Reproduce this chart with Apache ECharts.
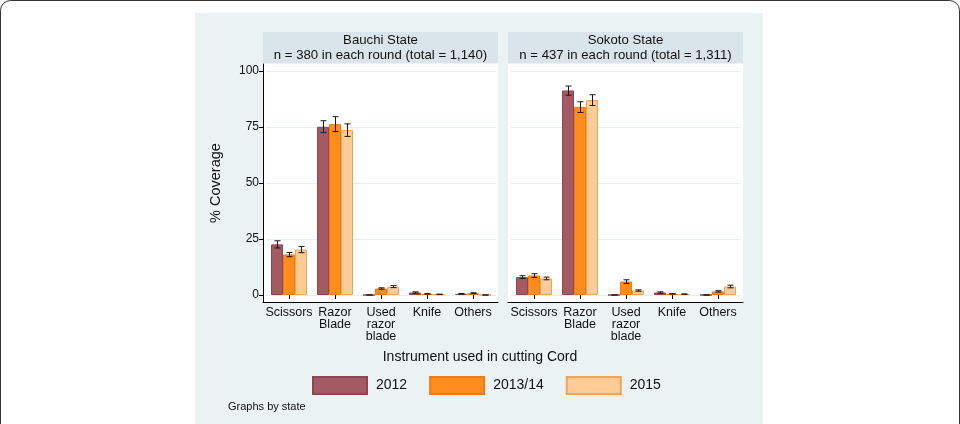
<!DOCTYPE html>
<html>
<head>
<meta charset="utf-8">
<script src="https://cdn.jsdelivr.net/npm/echarts@6/dist/echarts.min.js"></script>
<style>
html,body{margin:0;padding:0;background:#fff;}
#c{width:960px;height:424px;}
</style>
</head>
<body>
<div id="c"></div>
<script>
// ---------- data ----------
const categories = ['Scissors', 'Razor\nBlade', 'Used\nrazor\nblade', 'Knife', 'Others'];
const years = ['2012', '2013/14', '2015'];
const yTicks = [0, 25, 50, 75, 100];

const panelTitles = ['Bauchi State\nn = 380 in each round (total = 1,140)',
                     'Sokoto State\nn = 437 in each round (total = 1,311)'];

// Bauchi
const bauchi2012   = [22.6, 75.1, 0.0, 1.1, 0.5];
const bauchi2012Lo = [21.0, 72.5, 0.0, 0.8, 0.3];
const bauchi2012Hi = [24.2, 77.8, 0.0, 1.4, 0.7];
const bauchi2013   = [18.1, 76.3, 2.9, 0.5, 0.8];
const bauchi2013Lo = [17.1, 73.0, 2.6, 0.4, 0.6];
const bauchi2013Hi = [19.0, 79.6, 3.2, 0.6, 1.0];
const bauchi2015   = [20.3, 73.7, 3.7, 0.3, 0.0];
const bauchi2015Lo = [18.9, 70.8, 3.3, 0.2, 0.0];
const bauchi2015Hi = [21.7, 76.4, 4.2, 0.4, 0.0];

// Sokoto
const sokoto2012   = [8.0, 91.3, 0.0, 1.1, 0.0];
const sokoto2012Lo = [7.4, 89.2, 0.0, 0.8, 0.0];
const sokoto2012Hi = [8.6, 93.3, 0.0, 1.4, 0.0];
const sokoto2013   = [8.7, 84.0, 6.0, 0.5, 1.6];
const sokoto2013Lo = [7.9, 81.5, 5.2, 0.4, 1.3];
const sokoto2013Hi = [9.5, 86.3, 6.8, 0.6, 1.9];
const sokoto2015   = [7.4, 87.0, 2.0, 0.4, 3.8];
const sokoto2015Lo = [6.8, 84.6, 1.7, 0.3, 3.2];
const sokoto2015Hi = [8.0, 89.4, 2.3, 0.5, 4.4];

// ---------- style ----------
const FONT = '"Liberation Sans", Arial, Helvetica, sans-serif';
const fills   = ['#A45A62', '#FF8C1C', '#FFCB96'];
const borders = ['#8C4650', '#EE7C10', '#F2A456'];
const BAR_W = 12;

const states = [
  { vals: [bauchi2012, bauchi2013, bauchi2015],
    lo:   [bauchi2012Lo, bauchi2013Lo, bauchi2015Lo],
    hi:   [bauchi2012Hi, bauchi2013Hi, bauchi2015Hi], left: 263 },
  { vals: [sokoto2012, sokoto2013, sokoto2015],
    lo:   [sokoto2012Lo, sokoto2013Lo, sokoto2015Lo],
    hi:   [sokoto2012Hi, sokoto2013Hi, sokoto2015Hi], left: 508 }
];

const PANEL_W = 235, BG_TOP = 64, BG_H = 238, DATA_TOP = 71, DATA_H = 224;

const grid = [], xAxis = [], yAxis = [], series = [], graphic = [];

// outer frame & background
graphic.push({ type: 'rect', z: -100, shape: { x: 0.5, y: 0.5, width: 959, height: 440, r: 10 },
  style: { fill: '#fff', stroke: '#333', lineWidth: 1 } });
graphic.push({ type: 'rect', z: -90, shape: { x: 195, y: 13, width: 568, height: 420 },
  style: { fill: '#EAF2F3' } });

states.forEach((st, s) => {
  const bgIdx = s * 2, dIdx = s * 2 + 1;
  grid.push({ left: st.left, top: BG_TOP, width: PANEL_W, height: BG_H, show: true,
              backgroundColor: '#fff', borderWidth: 0 });
  grid.push({ left: st.left + 3, top: DATA_TOP, width: PANEL_W - 5, height: DATA_H });

  xAxis.push({ gridIndex: bgIdx, type: 'category', data: categories,
    axisLine: { show: true, lineStyle: { color: '#000', width: 1 } },
    axisTick: { show: false }, axisLabel: { show: false } });
  xAxis.push({ gridIndex: dIdx, type: 'category', data: categories, offset: 7,
    axisLine: { show: false },
    axisTick: { show: true, alignWithLabel: true, length: 4, lineStyle: { color: '#000' } },
    axisLabel: { fontFamily: FONT, fontSize: 12.5, color: '#111', lineHeight: 12, margin: 5, interval: 0 } });

  yAxis.push({ gridIndex: bgIdx, type: 'value', min: 0, max: 1,
    axisLine: { show: s === 0, lineStyle: { color: '#000', width: 1 } },
    axisTick: { show: false }, axisLabel: { show: false }, splitLine: { show: false } });
  yAxis.push({ gridIndex: dIdx, type: 'value', min: yTicks[0], max: yTicks[yTicks.length - 1],
    interval: yTicks[1] - yTicks[0], offset: 3,
    axisLine: { show: false },
    axisTick: { show: s === 0, length: 4, lineStyle: { color: '#000' } },
    axisLabel: { show: s === 0, fontFamily: FONT, fontSize: 12, color: '#111', margin: 4 },
    splitLine: { show: true, lineStyle: { color: '#E6EEF1', width: 1 } },
    name: s === 0 ? '% Coverage' : '', nameLocation: 'middle', nameGap: 40,
    nameTextStyle: { fontFamily: FONT, fontSize: 14.5, color: '#111' } });

  years.forEach((yr, k) => {
    series.push({ type: 'bar', name: yr, xAxisIndex: dIdx, yAxisIndex: dIdx,
      data: st.vals[k], barWidth: BAR_W, barGap: '0%',
      itemStyle: { color: fills[k], borderColor: borders[k], borderWidth: 1 },
      emphasis: { disabled: true }, animation: false });
  });
  years.forEach((yr, k) => {
    const data = categories.map((c, i) => [i, st.lo[k][i], st.hi[k][i]]);
    series.push({ type: 'custom', name: 'err' + s + k, xAxisIndex: dIdx, yAxisIndex: dIdx,
      data: data, z: 10, animation: false, silent: true,
      encode: { x: 0, y: [1, 2] },
      renderItem: function (params, api) {
        const pLo = api.coord([api.value(0), api.value(1)]);
        const pHi = api.coord([api.value(0), api.value(2)]);
        const x = Math.round(pLo[0] + (k - 1) * BAR_W) + 0.5;
        const cap = 3;
        const style = { stroke: '#1a1a1a', lineWidth: 1 };
        return { type: 'group', children: [
          { type: 'line', shape: { x1: x, y1: pHi[1], x2: x, y2: pLo[1] }, style: style },
          { type: 'line', shape: { x1: x - cap, y1: pHi[1], x2: x + cap, y2: pHi[1] }, style: style },
          { type: 'line', shape: { x1: x - cap, y1: pLo[1], x2: x + cap, y2: pLo[1] }, style: style }
        ] };
      } });
  });

  // panel header
  graphic.push({ type: 'rect', z: -50, shape: { x: st.left, y: 32, width: PANEL_W, height: 31 },
    style: { fill: '#D9E5EA' } });
  graphic.push({ type: 'text', z: 5, x: st.left + PANEL_W / 2, y: 48,
    style: { text: panelTitles[s], fontFamily: FONT, fontSize: 13.2, fill: '#111',
             align: 'center', verticalAlign: 'middle', lineHeight: 15 } });
});

graphic.push({ type: 'text', x: 480, y: 357,
  style: { text: 'Instrument used in cutting Cord', fontFamily: FONT, fontSize: 14, fill: '#111',
           align: 'center', verticalAlign: 'middle' } });
graphic.push({ type: 'text', x: 228, y: 407,
  style: { text: 'Graphs by state', fontFamily: FONT, fontSize: 11, fill: '#111',
           align: 'left', verticalAlign: 'middle' } });

const chart = echarts.init(document.getElementById('c'), null, { renderer: 'canvas' });
chart.setOption({
  animation: false,
  backgroundColor: '#fff',
  textStyle: { fontFamily: FONT },
  grid: grid, xAxis: xAxis, yAxis: yAxis, series: series, graphic: graphic,
  legend: { data: years, left: 312, top: 376, padding: 0, itemWidth: 54, itemHeight: 17, itemGap: 22,
    icon: 'rect', selectedMode: false,
    textStyle: { fontFamily: FONT, fontSize: 14, color: '#111', padding: [0, 0, 0, 4] } }
});
</script>
</body>
</html>
